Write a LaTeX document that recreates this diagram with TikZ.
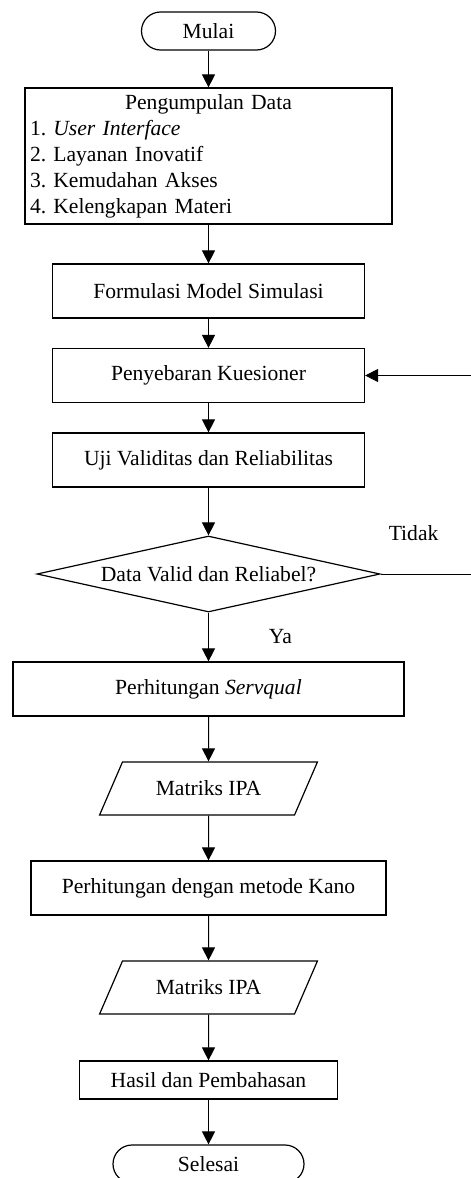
\documentclass[tikz,border=0pt]{standalone}
\usepackage{fontspec}
\setmainfont{Liberation Serif}
\usetikzlibrary{arrows.meta, shapes.geometric}

\begin{document}
\begin{tikzpicture}[->,>={Triangle[length=6.5pt,width=6.5pt]},line width=0.5pt,
	font=\fontsize{10.8}{13}\selectfont\frenchspacing,
	terminal/.style={draw, rectangle, rounded corners=9.5pt, minimum width=#1, minimum height=19pt, line width=0.6pt},
	proses/.style={draw, rectangle, minimum width=#1, minimum height=27pt, line width=0.6pt},
	data/.style={draw, trapezium, trapezium left angle=61, trapezium right angle=119, trapezium stretches=true, minimum width=109pt, minimum height=26.5pt, line width=0.6pt},
	keputusan/.style={draw, diamond, aspect=4.5, inner sep=0pt, minimum width=171.5pt, minimum height=38pt, line width=0.6pt}]
			\useasboundingbox (0,0) rectangle (235.5pt,-589pt);
			\node[terminal=67pt] (mulai) at (104.25pt,-15.5pt) {Mulai};
			\node[proses=183.5pt, minimum height=68pt, text width=178.5pt, inner sep=2.5pt, align=left, below of=mulai, node distance=62.5pt] (kumpul)
				{\makebox[178.5pt]{Pengumpulan Data}\\ 1. \textit{User Interface}\\ 2. Layanan Inovatif\\ 3. Kemudahan Akses\\ 4. Kelengkapan Materi};
			\node[proses=156pt, below of=kumpul, node distance=67.5pt]       (formulasi) {Formulasi Model Simulasi};
			\node[proses=156pt, below of=formulasi, node distance=42.25pt]   (sebar)     {Penyebaran Kuesioner};
			\node[proses=156pt, below of=sebar, node distance=42.25pt]       (uji)       {Uji Validitas dan Reliabilitas};
			\node[keputusan, below of=uji, node distance=57pt]               (valid)     {Data Valid dan Reliabel?};
			\node[proses=195.5pt, below of=valid, node distance=57.5pt]      (servqual)  {Perhitungan \textit{Servqual}};
			\node[data, below of=servqual, node distance=49.75pt]            (ipa1)      {Matriks IPA};
			\node[proses=177.5pt, below of=ipa1, node distance=49.75pt]      (kano)      {Perhitungan dengan metode Kano};
			\node[data, below of=kano, node distance=49.75pt]                (ipa2)      {Matriks IPA};
			\node[proses=129pt, minimum height=19pt, below of=ipa2, node distance=46.25pt] (hasil) {Hasil dan Pembahasan};
			\node[terminal=95.5pt, below of=hasil, node distance=42pt]       (selesai)   {Selesai};
			\node (tidak) at ([xshift=16.5pt,yshift=20.5pt]valid.east) {Tidak};
			\draw (mulai) -- (kumpul);
			\draw (kumpul) -- (formulasi);
			\draw (formulasi) -- (sebar);
			\draw (sebar) -- (uji);
			\draw (uji) -- (valid);
			\draw (valid) -- node[xshift=36pt] {Ya} (servqual);
			\draw (valid.east) -- ++(50pt,0) |- (sebar.east);
			\draw (servqual) -- (ipa1);
			\draw (ipa1) -- (kano);
			\draw (kano) -- (ipa2);
			\draw (ipa2) -- (hasil);
			\draw (hasil) -- (selesai);
		\end{tikzpicture}
\end{document}
